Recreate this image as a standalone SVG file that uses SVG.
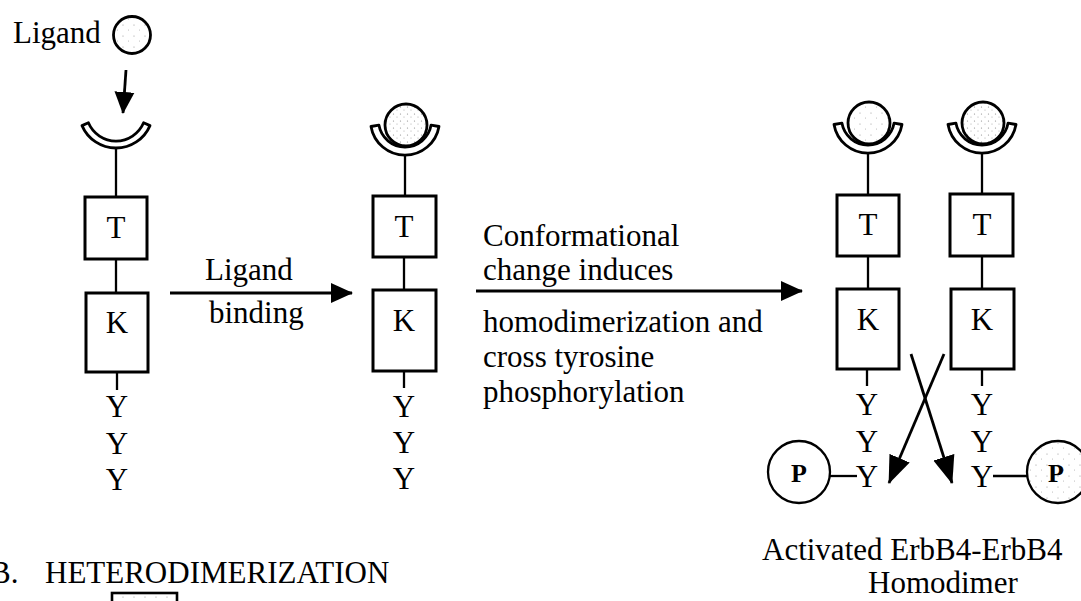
<svg xmlns="http://www.w3.org/2000/svg" width="1081" height="601" viewBox="0 0 1081 601">
<style>
  .t { font-family: "Liberation Serif", "Times New Roman", serif; font-size: 31px; fill: #000; }
  .c { text-anchor: middle; }
  .pb { font-family: "Liberation Serif", "Times New Roman", serif; font-size: 26px; font-weight: bold; text-anchor: middle; }
  .box { fill: #fff; stroke: #000; stroke-width: 3; }
  .ln { stroke: #000; stroke-width: 2.3; fill: none; }
  .cup { fill: #fff; stroke: #000; stroke-width: 2.8; stroke-linejoin: round; }
  .lig { fill: url(#stip); stroke: #000; stroke-width: 2.8; }
  .lig2 { fill: url(#stip2); stroke: #000; stroke-width: 2.8; }
  .pc { fill: #fff; stroke: #000; stroke-width: 2.3; }
  .pc2 { fill: url(#stip); stroke: #000; stroke-width: 2.3; }
  .arr { stroke: #000; stroke-width: 2.8; fill: none; marker-end: url(#ah); }
  .arr2 { stroke: #000; stroke-width: 2.8; fill: none; marker-end: url(#ah2); }
</style>
<defs>
  <pattern id="stip" width="11" height="11" patternUnits="userSpaceOnUse">
    <rect width="11" height="11" fill="#fff"/>
    <circle cx="2" cy="3" r="0.6" fill="#999"/>
    <circle cx="7.5" cy="8" r="0.5" fill="#aaa"/>
  </pattern>
  <pattern id="stip2" width="7" height="7" patternUnits="userSpaceOnUse">
    <rect width="7" height="7" fill="#fff"/>
    <circle cx="1.5" cy="2" r="0.6" fill="#888"/>
    <circle cx="5" cy="5" r="0.5" fill="#999"/>
  </pattern>
  <marker id="ah" viewBox="0 0 22 22" refX="21" refY="11" markerWidth="22" markerHeight="22" markerUnits="userSpaceOnUse" orient="auto">
    <path d="M0,1 L22,11 L0,21 Z" fill="#000"/>
  </marker>
  <marker id="ah2" viewBox="0 0 28 24" refX="27" refY="12" markerWidth="28" markerHeight="24" markerUnits="userSpaceOnUse" orient="auto">
    <path d="M0,1 L28,12 L0,23 Z" fill="#000"/>
  </marker>
  <path id="cupFree" d="M-34,14.6 A37,37 0 0 0 34,14.6 L27.6,11.8 A30,30 0 0 1 -27.6,11.8 Z"/>
  <path id="cupBound" d="M-34,6 A34.5,34.5 0 0 0 34,6 L26.1,4.6 A26.5,26.5 0 0 1 -26.1,4.6 Z"/>
</defs>

<rect width="1081" height="601" fill="#fff"/>

<g id="free-ligand">
  <text class="t" x="13" y="43">Ligand</text>
  <circle class="lig" cx="132" cy="35" r="18.5"/>
</g>

<g id="receptor1">
  <use href="#cupFree" class="cup" x="116" y="111"/>
  <line class="ln" x1="116" y1="148" x2="116" y2="197"/>
  <rect class="box" x="85" y="197" width="62" height="62"/>
  <text class="t c" x="116" y="238">T</text>
  <line class="ln" x1="116" y1="259" x2="116" y2="293"/>
  <rect class="box" x="86" y="293" width="62" height="79"/>
  <text class="t c" x="117" y="333">K</text>
  <line class="ln" x1="117" y1="372" x2="117" y2="390"/>
  <text class="t c" x="117" y="417">Y</text>
  <text class="t c" x="117" y="454">Y</text>
  <text class="t c" x="117" y="490">Y</text>
</g>

<g id="receptor2">
  <use href="#cupBound" class="cup" x="405" y="120.5"/>
  <circle class="lig2" cx="406" cy="125" r="21"/>
  <line class="ln" x1="405" y1="155" x2="405" y2="196"/>
  <rect class="box" x="373" y="196" width="63" height="61"/>
  <text class="t c" x="404" y="237">T</text>
  <line class="ln" x1="404" y1="257" x2="404" y2="290"/>
  <rect class="box" x="373" y="290" width="63" height="81"/>
  <text class="t c" x="404" y="331">K</text>
  <line class="ln" x1="404" y1="371" x2="404" y2="388"/>
  <text class="t c" x="404" y="417">Y</text>
  <text class="t c" x="404" y="453">Y</text>
  <text class="t c" x="404" y="489">Y</text>
</g>

<g id="receptor3">
  <use href="#cupBound" class="cup" x="868" y="118.5"/>
  <circle class="lig" cx="869" cy="123" r="21"/>
  <line class="ln" x1="868" y1="153" x2="868" y2="195"/>
  <rect class="box" x="837" y="195" width="62" height="61"/>
  <text class="t c" x="868" y="235">T</text>
  <line class="ln" x1="868" y1="256" x2="868" y2="289"/>
  <rect class="box" x="837" y="289" width="62" height="80"/>
  <text class="t c" x="868" y="330">K</text>
  <line class="ln" x1="867" y1="369" x2="867" y2="386"/>
  <text class="t c" x="867" y="415">Y</text>
  <text class="t c" x="867" y="452">Y</text>
  <text class="t c" x="867" y="487">Y</text>
</g>

<g id="receptor4">
  <use href="#cupBound" class="cup" x="982" y="118.5"/>
  <circle class="lig2" cx="983" cy="123" r="21"/>
  <line class="ln" x1="982" y1="153" x2="982" y2="194"/>
  <rect class="box" x="950" y="194" width="63" height="62"/>
  <text class="t c" x="982" y="235">T</text>
  <line class="ln" x1="982" y1="256" x2="982" y2="289"/>
  <rect class="box" x="951" y="289" width="63" height="80"/>
  <text class="t c" x="982" y="330">K</text>
  <line class="ln" x1="982" y1="369" x2="982" y2="386"/>
  <text class="t c" x="982" y="415">Y</text>
  <text class="t c" x="982" y="452">Y</text>
  <text class="t c" x="982" y="487">Y</text>
</g>

<g id="phospho-left">
  <circle class="pc" cx="799" cy="472" r="31"/>
  <text class="pb" x="799" y="482">P</text>
</g>

<g id="phospho-right">
  <circle class="pc2" cx="1058" cy="472" r="31"/>
  <text class="pb" x="1056" y="482">P</text>
</g>

<g id="connectors">
  <line class="arr" x1="126" y1="70" x2="123" y2="113"/>
  <line class="arr" x1="170" y1="293" x2="352" y2="293"/>
  <line class="arr" x1="476" y1="291" x2="802" y2="291"/>
  <line class="arr2" x1="944" y1="354" x2="889" y2="483"/>
  <line class="arr2" x1="911" y1="354" x2="952" y2="483"/>
  <line class="ln" x1="830" y1="476" x2="857" y2="476"/>
  <line class="ln" x1="993" y1="476" x2="1027" y2="476"/>
</g>

<g id="labels">
  <text class="t" x="205" y="280">Ligand</text>
  <text class="t" x="209" y="323">binding</text>
  <text class="t" x="483" y="246">Conformational</text>
  <text class="t" x="483" y="280">change induces</text>
  <text class="t" x="483" y="332">homodimerization and</text>
  <text class="t" x="483" y="367">cross tyrosine</text>
  <text class="t" x="483" y="402">phosphorylation</text>
  <text class="t" x="762" y="560">Activated ErbB4-ErbB4</text>
  <text class="t" x="868" y="593">Homodimer</text>
  <text class="t" x="-10" y="583">B.<tspan x="45">HETERODIMERIZATION</tspan></text>
</g>

<g id="partial-box">
  <rect x="112" y="593" width="65" height="16" fill="url(#stip)" stroke="#000" stroke-width="2.6"/>
</g>
</svg>
